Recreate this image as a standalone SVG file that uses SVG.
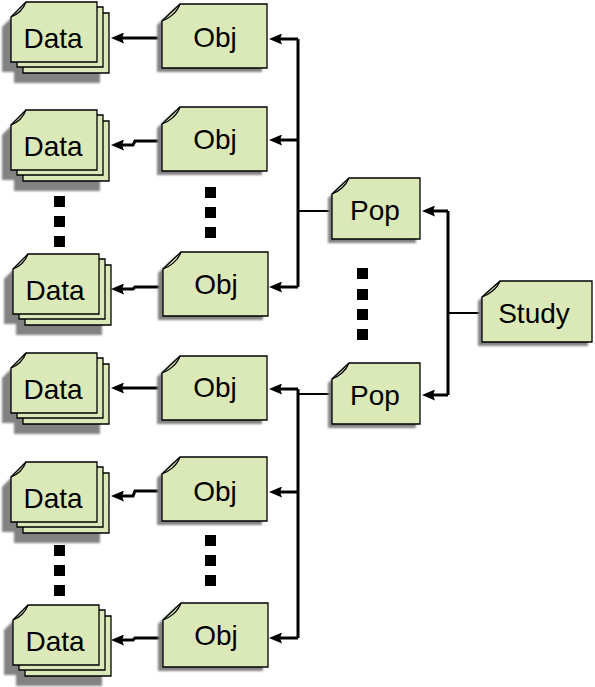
<svg xmlns="http://www.w3.org/2000/svg" width="595" height="687" viewBox="0 0 595 687">
<style>
.page{fill:#dbe9b9;stroke:#000;stroke-width:1.3}
.shadow{fill:#828282}
.fold{fill:none;stroke:#000;stroke-width:1.3}
.lbl{font-family:"Liberation Sans",Arial,sans-serif;font-size:28px;fill:#000;text-anchor:middle}
.bus{fill:none;stroke:#000;stroke-width:3}
.stub{fill:none;stroke:#000;stroke-width:2}
.arr{fill:none;stroke:#000;stroke-width:3;marker-end:url(#ah)}
.dot{fill:#000}
</style>
<defs>
<filter id="blur" x="-10%" y="-10%" width="120%" height="120%"><feGaussianBlur stdDeviation="1"/></filter>
<marker id="ah" markerUnits="userSpaceOnUse" markerWidth="13" markerHeight="11" viewBox="0 0 13 11" refX="4" refY="5.5" orient="auto">
<path d="M0,0 L13,5.5 L0,11 L2,5.5 Z" fill="#000"/>
</marker>
<g id="dataStack">
<g class="shadow" filter="url(#blur)" transform="translate(-9,10)">
<path d="M12,26 L27,11 L98,11 L98,71 L12,71 Z"/>
<path d="M0,15 L15,0 L86,0 L86,60 L0,60 Z"/>
</g>
<path class="page" d="M12,26 L27,11 L98,11 L98,71 L12,71 Z"/>
<path class="page" d="M6,20 L21,5 L92,5 L92,65 L6,65 Z"/>
<path class="page" d="M0,15 L15,0 L86,0 L86,60 L0,60 Z"/>
<path class="fold" d="M0,15 C5,13 12,8 15,0"/>
</g>
<g id="objShape">
<path class="shadow" filter="url(#blur)" transform="translate(-5,4)" d="M0,17 L18,0 L105,0 L105,64 L0,64 Z"/>
<path class="page" d="M0,17 L18,0 L105,0 L105,64 L0,64 Z"/>
<path class="fold" d="M0,17 C6,15 15,9 18,0"/>
</g>
<g id="popShape">
<path class="shadow" filter="url(#blur)" transform="translate(-4,4)" d="M0,16 L17,0 L88,0 L88,61 L0,61 Z"/>
<path class="page" d="M0,16 L17,0 L88,0 L88,61 L0,61 Z"/>
<path class="fold" d="M0,16 C6,14 14,8 17,0"/>
</g>
<g id="studyShape">
<path class="shadow" filter="url(#blur)" transform="translate(-4,4)" d="M0,16 L18,0 L110,0 L110,61 L0,61 Z"/>
<path class="page" d="M0,16 L18,0 L110,0 L110,61 L0,61 Z"/>
<path class="fold" d="M0,16 C6,14 15,8 18,0"/>
</g>
</defs>
<rect width="595" height="687" fill="#fff"/>

<g id="connectors">
<polyline class="arr" points="162,38 120,38"/>
<polyline class="arr" points="162,141 135,141 133,145 120,145"/>
<polyline class="arr" points="163,287 135,287 133,289 120,289"/>
<polyline class="arr" points="162,388 120,388"/>
<polyline class="arr" points="162,491 135,491 133,496 120,496"/>
<polyline class="arr" points="163,638 135,638 133,640 120,640"/>
<path class="bus" d="M298,39 V287"/>
<path class="arr" d="M298,39 H278"/>
<path class="arr" d="M298,140 H278"/>
<path class="arr" d="M298,287 H278"/>
<path class="stub" d="M298,211 H332"/>
<path class="bus" d="M298,389 V638"/>
<path class="arr" d="M298,389 H278"/>
<path class="arr" d="M298,492 H278"/>
<path class="arr" d="M298,638 H278"/>
<path class="stub" d="M298,394 H332"/>
<path class="bus" d="M448,211 V395"/>
<path class="arr" d="M448,211 H431"/>
<path class="arr" d="M448,395 H431"/>
<path class="stub" d="M448,313 H482"/>
</g>

<g id="data1"><use href="#dataStack" transform="translate(11,2)"/><text class="lbl" x="53" y="48">Data</text></g>
<g id="data2"><use href="#dataStack" transform="translate(11,110)"/><text class="lbl" x="53" y="156">Data</text></g>
<g id="data3"><use href="#dataStack" transform="translate(13,254)"/><text class="lbl" x="55" y="300">Data</text></g>
<g id="data4"><use href="#dataStack" transform="translate(11,353)"/><text class="lbl" x="53" y="399">Data</text></g>
<g id="data5"><use href="#dataStack" transform="translate(11,462)"/><text class="lbl" x="53" y="508">Data</text></g>
<g id="data6"><use href="#dataStack" transform="translate(13,605)"/><text class="lbl" x="55" y="651">Data</text></g>

<g id="obj1"><use href="#objShape" transform="translate(162,4)"/><text class="lbl" x="215" y="47">Obj</text></g>
<g id="obj2"><use href="#objShape" transform="translate(162,107)"/><text class="lbl" x="215" y="149">Obj</text></g>
<g id="obj3"><use href="#objShape" transform="translate(163,252)"/><text class="lbl" x="216" y="294">Obj</text></g>
<g id="obj4"><use href="#objShape" transform="translate(162,356)"/><text class="lbl" x="215" y="397">Obj</text></g>
<g id="obj5"><use href="#objShape" transform="translate(162,457)"/><text class="lbl" x="215" y="501">Obj</text></g>
<g id="obj6"><use href="#objShape" transform="translate(163,603)"/><text class="lbl" x="216" y="645">Obj</text></g>

<g id="pop1"><use href="#popShape" transform="translate(332,178)"/><text class="lbl" x="375" y="220">Pop</text></g>
<g id="pop2"><use href="#popShape" transform="translate(332,363)"/><text class="lbl" x="375" y="405">Pop</text></g>
<g id="study"><use href="#studyShape" transform="translate(482,281)"/><text class="lbl" x="534" y="323">Study</text></g>

<g id="ellipses">
<rect class="dot" x="54" y="196" width="11" height="11"/>
<rect class="dot" x="54" y="216" width="11" height="11"/>
<rect class="dot" x="54" y="236" width="11" height="11"/>
<rect class="dot" x="205" y="187" width="11" height="11"/>
<rect class="dot" x="205" y="207" width="11" height="11"/>
<rect class="dot" x="205" y="227" width="11" height="11"/>
<rect class="dot" x="357" y="268" width="11" height="11"/>
<rect class="dot" x="357" y="289" width="11" height="11"/>
<rect class="dot" x="357" y="309" width="11" height="11"/>
<rect class="dot" x="357" y="329" width="11" height="11"/>
<rect class="dot" x="54" y="545" width="11" height="11"/>
<rect class="dot" x="54" y="565" width="11" height="11"/>
<rect class="dot" x="54" y="585" width="11" height="11"/>
<rect class="dot" x="205" y="535" width="11" height="11"/>
<rect class="dot" x="205" y="555" width="11" height="11"/>
<rect class="dot" x="205" y="575" width="11" height="11"/>
</g>
</svg>
